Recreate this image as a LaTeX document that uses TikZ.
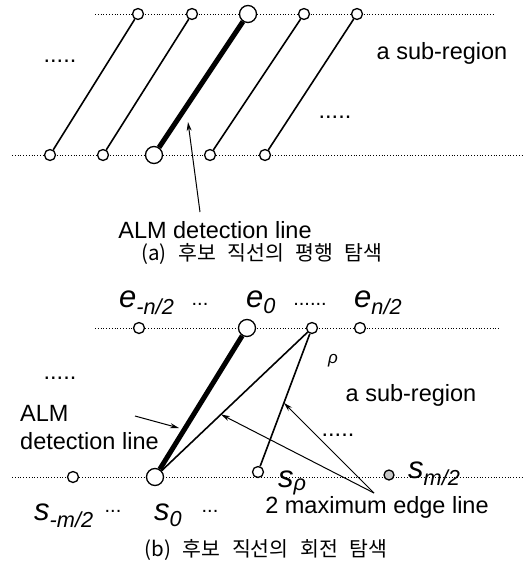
\documentclass[tikz,border=0pt]{standalone}
\usepackage{fontspec}
\setmainfont{Liberation Sans}
\newfontfamily\kofont[WordSpace=2.5]{Noto Sans CJK KR}
\usetikzlibrary{arrows.meta,calc}

\begin{document}
\begin{tikzpicture}[x=1pt, y=-1pt,
    punto/.style={circle, draw, line width=1.3pt, fill=white, inner sep=0pt, minimum size=11pt},
    puntog/.style={punto, minimum size=17pt},
    guia/.style={line width=1pt, dash pattern=on 0.9pt off 1.9pt},
    recta/.style={line width=1.6pt},
    alm/.style={line width=5pt},
    flecha/.style={line width=1pt, -{Stealth[length=9pt, width=5pt]}},
    texto/.style={inner sep=0pt, anchor=base, font=\fontsize{23.5}{28}\selectfont},
    puntos/.style={inner sep=0pt, anchor=base, font=\fontsize{20}{20}\selectfont},
    etiq/.style={inner sep=0pt, anchor=base west, font=\fontsize{31}{31}\selectfont\itshape},
    titulo/.style={inner sep=0pt, font=\kofont\fontsize{20.5}{24}\selectfont}]
  \useasboundingbox (0,0) rectangle (524,568);

  % (a) busqueda paralela
  \begin{scope}
    % Lineas guia punteadas
    \coordinate (ga1) at (95,14);
    \coordinate (ga2) at (493,14);
    \coordinate (ga3) at (12,155);
    \coordinate (ga4) at (524,155);
    \draw[guia] (ga1) -- (ga2);
    \draw[guia] (ga3) -- (ga4);

    % Puntos superiores e inferiores
    \node[punto] (supA1) at (138,14) {};
    \node[punto] (supA2) at (192,14) {};
    \node[puntog] (supA3) at (248,14) {};
    \node[punto] (supA4) at (304,14) {};
    \node[punto] (supA5) at (357,14) {};
    \node[punto] (infA1) at (50,155) {};
    \node[punto] (infA2) at (103,155) {};
    \node[puntog] (infA3) at (154,155) {};
    \node[punto] (infA4) at (210,155) {};
    \node[punto] (infA5) at (265,155) {};

    % Rectas candidatas
    \draw[recta] (infA1) -- (supA1);
    \draw[recta] (infA2) -- (supA2);
    \draw[alm] (infA3) -- (supA3);
    \draw[recta] (infA4) -- (supA4);
    \draw[recta] (infA5) -- (supA5);

    % Textos
    \node[texto] (ptsA1) at (60,62) {.....};
    \node[texto] (ptsA2) at (335,118) {.....};
    \node[texto] (subA) at (442,59) {a sub-region};
    \node[texto] (almA) at (215,238) {ALM detection line};
    \coordinate (colaA) at (200,212);
    \coordinate (puntaA) at (188,122);
    \draw[flecha] (colaA) -- (puntaA);
    \node[titulo] (titA) at (262,254) {(a) 후보 직선의 평행 탐색};
  \end{scope}

  % (b) busqueda rotacional
  \begin{scope}
    % Lineas guia punteadas
    \coordinate (gb1) at (95,328);
    \coordinate (gb2) at (500,328);
    \coordinate (gb3) at (12,477);
    \coordinate (gb4) at (524,477);
    \draw[guia] (gb1) -- (gb2);
    \draw[guia] (gb3) -- (gb4);

    % Puntos
    \node[punto] (supB1) at (139,328) {};
    \node[puntog] (supB0) at (247,328) {};
    \node[punto] (supBp) at (312,328) {};
    \node[punto] (supB2) at (360,328) {};
    \node[punto] (infB1) at (73,477) {};
    \node[puntog] (infB0) at (155,477) {};
    \node[punto] (infBp) at (258,472) {};
    \node[punto, fill=gray!45, minimum size=10pt] (infB2) at (389,475) {};

    % Rectas
    \draw[alm] (infB0) -- (supB0);
    \draw[recta] (infB0) -- (supBp);
    \draw[recta] (infBp) -- (supBp);

    % Etiquetas de los extremos
    \node[etiq] (eB1) at (119,307) {e\textsubscript{-n/2}};
    \node[puntos] (ptsB1) at (200,305) {...};
    \node[etiq] (eB0) at (246,307) {e\textsubscript{0}};
    \node[puntos] (ptsB2) at (310,305) {......};
    \node[etiq] (eB2) at (354,307) {e\textsubscript{n/2}};
    \node[inner sep=0pt, anchor=base, font=\fontsize{17}{17}\selectfont\itshape] (rho) at (333,363) {ρ};
    \node[etiq] (sB1) at (34,520) {s\textsubscript{-m/2}};
    \node[puntos] (ptsB3) at (113,512) {...};
    \node[etiq] (sB0) at (154,520) {s\textsubscript{0}};
    \node[puntos] (ptsB4) at (210,512) {...};
    \node[etiq] (sBp) at (278,487) {s\textsubscript{ρ}};
    \node[etiq] (sB2) at (408,478) {s\textsubscript{m/2}};

    % Textos
    \node[texto] (ptsB5) at (60,379) {.....};
    \node[texto] (ptsB6) at (338,436) {.....};
    \node[texto] (subB) at (411,401) {a sub-region};
    \node[texto, anchor=west, align=left] (almB) at (20,428) {ALM\\detection line};
    \node[texto] (maxB) at (377,513) {2 maximum edge line};

    % Flechas
    \coordinate (colaB1) at (135,416);
    \coordinate (puntaB1) at (179,428);
    \draw[flecha] (colaB1) -- (puntaB1);
    \coordinate (colaB2) at (374,493);
    \draw[flecha] (colaB2) -- ($(infB0)!0.42!(supBp)$);
    \draw[flecha] (colaB2) -- ($(infBp)!0.48!(supBp)$);

    \node[titulo] (titB) at (266,550) {(b) 후보 직선의 회전 탐색};
  \end{scope}
\end{tikzpicture}
\end{document}
